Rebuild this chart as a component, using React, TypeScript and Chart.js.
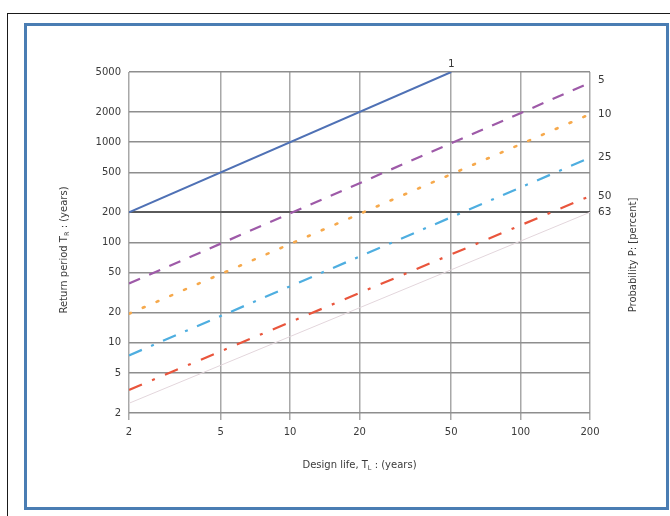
import React, { useEffect, useRef } from "react";
import { Chart, registerables } from "chart.js";
Chart.register(...registerables);

// Design life (x) end points and return periods (y)
const lifeShort = [2, 50];
const lifeFull = [2, 200];
const returnP1 = [200, 5000];
const returnP5 = [39, 3900];
const returnP10 = [19.5, 1900];
const returnP25 = [7.5, 700];
const returnP50 = [3.4, 290];
const returnP63 = [2.5, 200];
const probabilityLabels = ["1", "5", "10", "25", "50", "63"];
const xTicks = [2, 5, 10, 20, 50, 100, 200];
const yTicks = [2, 5, 10, 20, 50, 100, 200, 500, 1000, 2000, 5000];

const FONT = "'DejaVu Sans', sans-serif";

function pts(xs: number[], ys: number[]) {
  return xs.map((x, i) => ({ x, y: ys[i] }));
}

function drawParts(
  ctx: CanvasRenderingContext2D,
  parts: { t: string; sub?: boolean }[],
  size: number
) {
  const widths = parts.map((p) => {
    ctx.font = `${p.sub ? size * 0.65 : size}px ${FONT}`;
    return ctx.measureText(p.t).width;
  });
  const total = widths.reduce((a, b) => a + b, 0);
  let x = -total / 2;
  parts.forEach((p, i) => {
    ctx.font = `${p.sub ? size * 0.65 : size}px ${FONT}`;
    ctx.textAlign = "left";
    ctx.textBaseline = "middle";
    ctx.fillText(p.t, x, p.sub ? size * 0.3 : 0);
    x += widths[i];
  });
}

const labelPlugin = {
  id: "labelPlugin",
  afterDraw(chart: any) {
    const ctx = chart.ctx as CanvasRenderingContext2D;
    const area = chart.chartArea;
    ctx.save();
    ctx.fillStyle = "#3a3a3a";
    chart.data.datasets.forEach((_: any, i: number) => {
      const meta = chart.getDatasetMeta(i);
      const last = meta.data[meta.data.length - 1];
      ctx.font = `10.5px ${FONT}`;
      ctx.textBaseline = "middle";
      if (i === 0) {
        ctx.textAlign = "center";
        ctx.fillText(probabilityLabels[i], last.x, last.y - 8);
      } else {
        ctx.textAlign = "left";
        ctx.fillText(probabilityLabels[i], area.right + 8, last.y - (i === 1 ? 3 : 0));
      }
    });
    ctx.save();
    ctx.translate((area.left + area.right) / 2, 465);
    drawParts(ctx, [{ t: "Design life, T" }, { t: "L", sub: true }, { t: " : (years)" }], 10);
    ctx.restore();

    ctx.save();
    ctx.translate(64, 250);
    ctx.rotate(-Math.PI / 2);
    drawParts(ctx, [{ t: "Return period T" }, { t: "R", sub: true }, { t: " : (years)" }], 10);
    ctx.restore();

    ctx.save();
    ctx.translate(633, 255);
    ctx.rotate(-Math.PI / 2);
    drawParts(ctx, [{ t: "Probability P: [percent]" }], 10);
    ctx.restore();
    ctx.restore();
  },
};

export default function App() {
  const ref = useRef<HTMLCanvasElement | null>(null);
  useEffect(() => {
    if (!ref.current) return;
    const chart = new Chart(ref.current, {
      type: "line",
      data: {
        datasets: [
          { label: "1", data: pts(lifeShort, returnP1), borderColor: "#4f71b5", borderWidth: 2 },
          { label: "5", data: pts(lifeFull, returnP5), borderColor: "#9e5aa8", borderWidth: 2.2, borderDash: [12, 10] },
          { label: "10", data: pts(lifeFull, returnP10), borderColor: "#f6a94c", borderWidth: 2.6, borderDash: [2, 13], borderCapStyle: "round" },
          { label: "25", data: pts(lifeFull, returnP25), borderColor: "#4eaee0", borderWidth: 2.2, borderDash: [14, 10, 3, 10] },
          { label: "50", data: pts(lifeFull, returnP50), borderColor: "#e9553c", borderWidth: 2.2, borderDash: [14, 11, 3, 11] },
          { label: "63", data: pts(lifeFull, returnP63), borderColor: "#e3d6dc", borderWidth: 1 },
        ] as any,
      },
      options: {
        animation: false,
        responsive: false,
        elements: { point: { radius: 0 }, line: { tension: 0 } },
        layout: { padding: { top: 72, left: 0, right: 80, bottom: 0 } },
        plugins: { legend: { display: false }, tooltip: { enabled: false } },
        scales: {
          x: {
            type: "logarithmic",
            min: 2,
            max: 200,
            afterBuildTicks: (s: any) => {
              s.ticks = xTicks.map((v) => ({ value: v }));
            },
            afterFit: (s: any) => {
              s.height = 103;
            },
            border: { display: false },
            grid: { color: "#a8a8a8", lineWidth: 1.5, drawTicks: true, tickLength: 7 },
            ticks: {
              padding: 6,
              color: "#3a3a3a",
              font: { family: FONT, size: 10 },
              maxRotation: 0,
              autoSkip: false,
              callback: (v: any) => String(v),
            },
          },
          y: {
            type: "logarithmic",
            min: 2,
            max: 5000,
            afterBuildTicks: (s: any) => {
              s.ticks = yTicks.map((v) => ({ value: v }));
            },
            afterFit: (s: any) => {
              s.width = 129;
            },
            border: { display: false },
            grid: {
              color: (c: any) => (c.tick && c.tick.value === 200 ? "#5a5a5a" : "#8e8e8e"),
              lineWidth: (c: any) => (c.tick && c.tick.value === 200 ? 2 : 1.5),
              drawTicks: false,
            },
            ticks: {
              padding: 8,
              color: "#3a3a3a",
              font: { family: FONT, size: 10 },
              autoSkip: false,
              callback: (v: any) => String(v),
            },
          },
        },
      },
      plugins: [labelPlugin],
    });
    return () => chart.destroy();
  }, []);

  return (
    <div style={{ position: "absolute", left: 0, top: 0, width: 670, height: 516, overflow: "hidden", background: "#fff" }}>
      <div
        style={{
          position: "absolute",
          left: 7,
          top: 13,
          width: 720,
          height: 600,
          border: "1.5px solid #1a1a1a",
          boxSizing: "border-box",
        }}
      />
      <div
        style={{
          position: "absolute",
          left: 24,
          top: 23,
          width: 645,
          height: 487,
          border: "3px solid #4a7db3",
          boxSizing: "border-box",
        }}
      />
      <canvas ref={ref} width={670} height={516} style={{ position: "absolute", left: 0, top: 0, width: 670, height: 516 }} />
    </div>
  );
}
